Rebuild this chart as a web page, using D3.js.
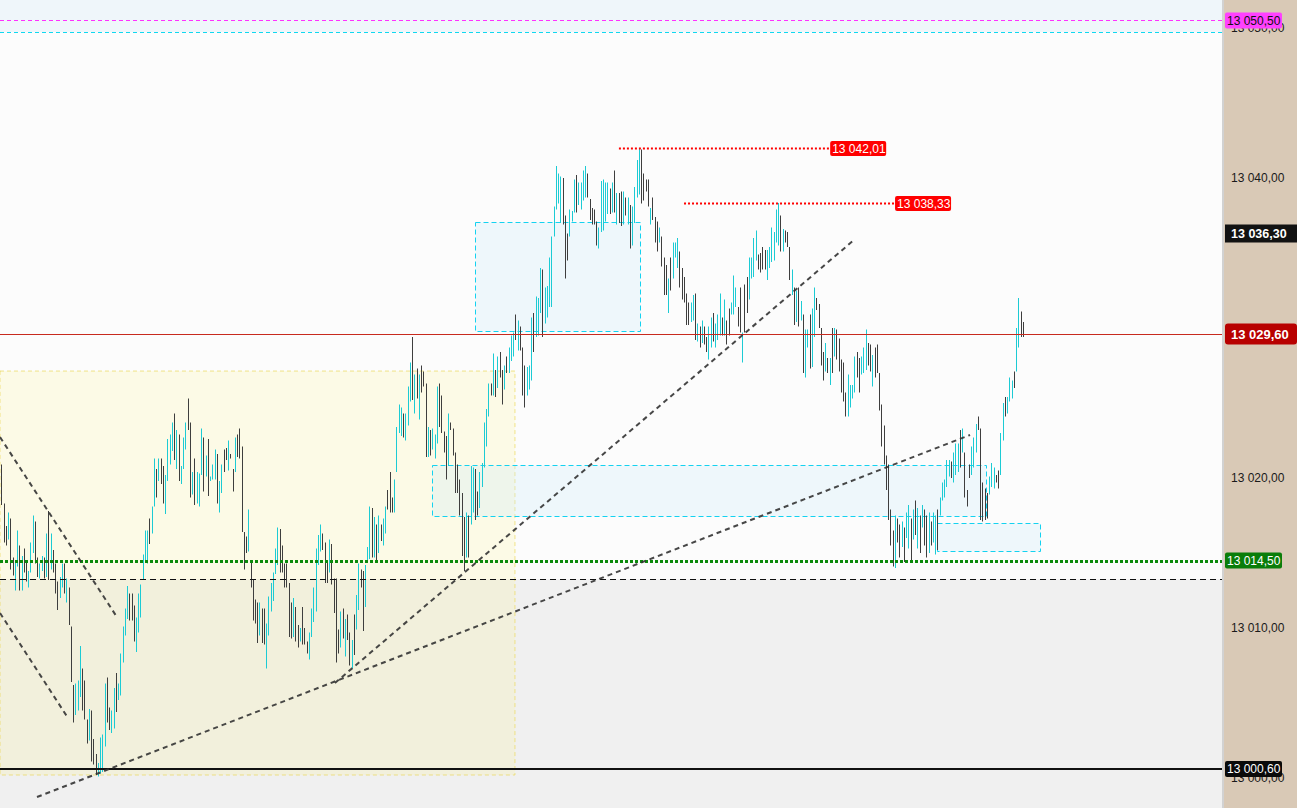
<!DOCTYPE html>
<html><head><meta charset="utf-8">
<script src="https://cdn.jsdelivr.net/npm/d3@7/dist/d3.min.js"></script>
<style>
html,body{margin:0;padding:0;overflow:hidden;background:#fcfcfc}
svg{display:block;font-family:"Liberation Sans",Arial,sans-serif}
</style>
</head><body>
<svg id="chart" width="1297" height="808"></svg>
<script>
// ---------------- DATA ----------------
const BASE = 13000; // values below are points above 13 000
const highs = [
20.9,18.3,16.8,17.7,17.3,14.7,14.5,16.5,15.5,14.8,
15.3,14.5,13.8,15.7,17.5,17.1,14.7,14.3,14.8,14.7,
16.3,17.8,16.3,15.2,14.3,13.1,13.4,14.3,14.3,13.3,
12.7,10.1,6.2,6.3,6.5,8.8,7.3,6.5,3.9,4.6,
4.5,2.6,1.6,1.0,2.7,2.9,6.3,6.7,4.7,4.5,
6.0,7.0,6.3,8.3,10.1,11.3,12.8,12.3,12.3,11.5,
10.7,12.3,12.9,14.9,16.5,16.5,17.3,18.1,21.3,20.6,
21.3,21.3,20.8,20.2,22.6,22.9,23.7,24.3,23.2,22.9,
20.8,22.7,23.7,25.3,23.7,20.4,21.3,20.4,20.3,23.3,
22.7,21.5,22.6,20.1,20.9,21.9,21.6,19.8,20.9,21.9,
22.0,22.5,21.6,20.6,22.7,22.9,23.3,22.1,16.4,16.1,
17.9,14.5,13.2,11.9,11.7,11.7,
11.3,11.3,10.3,12.1,13.0,13.7,15.3,16.7,16.6,15.5,
14.3,14.3,13.0,11.7,12.0,11.4,10.2,10.0,11.4,10.0,
9.1,9.7,11.3,12.7,15.3,16.2,16.9,16.3,15.7,14.5,
15.9,15.6,13.3,13.3,9.9,11.1,11.3,10.6,10.9,9.7,
9.2,10.9,12.2,14.3,13.9,13.8,14.2,15.4,18.1,18.0,
17.4,16.9,17.5,16.9,17.3,18.1,19.2,20.4,18.7,19.9,
23.4,24.9,24.7,24.3,24.3,26.1,27.7,29.4,26.9,27.3,
26.9,27.5,27.1,26.3,23.4,23.2,23.3,22.9,26.1,26.3,
25.5,23.1,22.8,24.3,23.7,23.3,21.7,20.9,19.9,19.0,
17.4,17.7,17.5,20.8,20.7,20.6,19.1,20.4,21.0,23.7,
24.6,26.3,26.3,28.3,27.2,28.1,28.4,27.2,27.5,28.1,
28.7,29.5,29.7,
30.9,30.5,30.1,28.7,27.5,27.4,27.5,30.7,31.0,32.1,
32.0,34.0,33.9,32.7,32.8,34.7,36.1,38.1,40.8,40.3,
40.1,40.0,37.5,36.3,37.9,37.8,39.9,40.2,39.7,39.7,
40.5,40.8,40.3,38.6,38.0,37.9,37.1,36.7,39.8,39.9,
39.7,39.7,39.3,39.7,40.5,39.0,39.0,39.1,39.1,38.7,
38.7,38.2,38.1,39.4,41.2,42.01,41.9,40.3,39.9,39.9,
38.0,38.7,37.4,37.1,36.7,36.1,34.7,34.2,33.3,34.7,
35.7,35.7,36.0,35.1,34.0,33.4,32.3,31.7,31.7,32.2,
32.3,30.3,30.1,30.5,30.1,29.4,30.1,30.7,31.0,30.3,
30.9,32.3,30.7,31.9,30.5,31.3,31.7,33.5,32.7,31.4,
32.7,29.7,32.9,33.4,34.7,34.7,36.0,36.5,34.9,35.0,
35.4,
35.2,35.2,35.4,36.7,36.4,37.9,38.33,37.5,36.6,36.5,
36.4,35.4,33.9,32.7,32.5,32.7,31.8,30.9,29.9,29.9,
30.9,31.3,32.7,32.0,31.6,30.0,28.4,29.0,28.0,28.0,
30.0,30.0,29.9,29.3,27.9,27.7,25.7,26.9,26.2,26.2,
28.1,28.4,28.0,28.1,28.7,29.9,29.0,28.9,28.2,28.7,
28.9,27.0,24.9,23.5,21.5,20.9,17.9,16.5,17.5,17.3,
16.9,17.1,16.7,17.7,18.2,17.3,17.9,18.5,18.0,17.5,
18.2,17.9,17.5,17.7,17.1,17.7,17.5,17.9,18.7,19.7,
19.9,21.2,21.2,21.1,21.7,22.3,22.3,23.2,23.3,21.7,
19.2,20.9,22.1,22.7,23.6,24.1,23.3,19.7,19.3,19.0,
20.1,21.0,20.7,20.2,20.5,23.0,25.0,25.4,25.4,26.7,
26.5,27.1,30.0,32.0,31.1,30.4
];
const lows = [
18.2,15.7,15.5,15.9,13.9,13.5,12.5,14.1,12.5,12.5,
13.7,13.1,12.7,13.7,15.0,14.3,13.4,13.3,13.8,13.3,
13.4,13.2,13.9,13.7,12.3,11.2,12.0,12.7,12.3,11.7,
10.2,6.4,3.7,4.2,4.5,5.4,4.5,3.9,2.3,2.5,
1.1,0.9,0.2,0.1,0.3,0.4,2.1,3.7,3.2,3.0,
3.3,4.4,5.2,5.5,7.7,9.5,10.6,10.5,10.5,9.1,
8.4,9.7,10.7,13.2,14.4,14.3,15.6,16.3,18.1,18.7,
19.8,19.6,18.3,17.6,19.8,20.9,21.8,21.2,20.6,19.8,
19.6,20.6,21.9,23.2,18.7,18.9,18.2,18.3,18.1,20.2,
19.1,20.1,18.8,19.8,19.9,19.9,18.3,17.7,19.0,20.4,
21.2,20.5,21.3,19.1,20.4,21.4,21.3,16.4,13.9,15.0,
15.1,12.7,10.5,10.3,9.0,9.5,
9.0,8.9,7.3,9.5,11.1,11.8,13.6,14.2,13.7,13.7,
12.7,12.7,9.4,9.3,9.4,9.1,8.7,9.1,8.9,8.9,
8.3,7.9,9.4,10.4,11.1,14.2,15.1,15.2,13.0,13.0,
13.7,12.9,11.0,7.7,8.3,8.7,9.3,8.1,9.2,7.5,
7.3,8.2,9.9,11.2,12.7,9.8,11.4,14.4,14.6,14.7,
14.7,14.4,15.0,15.8,15.5,16.3,17.9,17.7,17.7,17.7,
20.4,23.0,22.8,22.7,22.5,23.5,25.1,25.2,24.3,25.3,
23.9,25.7,26.1,21.4,21.4,21.5,21.9,21.3,22.3,23.4,
23.0,21.7,19.9,20.8,23.2,21.5,19.0,19.0,17.5,14.8,
13.8,14.7,14.7,16.9,17.7,17.2,17.5,18.0,19.4,20.7,
22.1,24.1,25.5,25.5,25.4,26.0,26.7,24.9,25.9,27.0,
27.0,27.8,28.1,
29.2,28.5,28.5,25.5,24.7,25.5,25.9,26.5,28.4,29.4,
29.5,31.0,29.4,30.3,30.7,31.4,31.4,36.1,37.9,38.3,
37.0,36.9,33.3,34.5,36.1,37.1,37.7,37.7,38.2,37.9,
38.5,38.7,38.7,37.2,36.9,36.9,35.5,35.3,36.4,36.5,
37.1,37.6,37.6,37.7,37.7,36.9,37.0,36.8,36.9,37.5,
36.9,35.3,35.5,37.0,38.7,38.9,38.3,38.5,39.1,38.1,
36.9,37.2,35.7,35.1,35.7,34.1,32.2,32.2,31.0,32.5,
33.3,34.7,34.0,32.7,31.9,31.7,30.2,30.2,30.4,30.5,
29.2,29.1,28.7,29.0,28.9,28.4,27.9,28.7,29.1,28.7,
29.2,29.5,29.5,29.5,28.9,29.5,30.9,30.9,31.4,30.1,
29.7,27.7,29.7,31.0,31.9,33.3,33.4,34.5,33.9,33.7,
33.9,
33.9,33.2,34.0,34.4,34.5,35.7,35.5,35.1,35.1,35.7,
35.4,33.2,32.2,30.2,30.4,30.1,30.5,27.0,26.7,28.7,
27.3,27.4,29.4,31.2,30.0,27.5,26.5,27.1,27.0,26.2,
27.0,28.1,27.9,27.1,25.7,25.1,24.1,24.1,24.7,25.3,
25.7,26.7,25.7,26.9,27.0,27.2,27.5,27.1,26.1,26.7,
27.0,24.5,22.1,20.9,19.2,17.2,15.5,14.1,14.0,15.7,
14.7,15.4,14.4,16.0,15.3,14.5,15.9,16.2,15.3,15.0,
16.7,15.5,14.7,15.0,15.5,15.7,14.9,15.2,17.5,18.5,
18.7,19.4,20.1,20.0,19.7,20.2,20.4,20.7,21.7,18.7,
18.1,20.0,20.2,20.7,21.7,23.2,17.2,17.1,17.2,17.3,
18.9,19.4,19.3,19.7,19.3,20.2,22.5,24.1,24.3,25.1,
25.3,26.0,27.1,28.7,29.4,29.4
];
// u = up bar (cyan), d = down bar (dark)
const directions =
 "dddudduudu"+"dduuudduud"+"ududdduudu"+"ddduuudddu"+"ddduuuuddu"+"uduuuuuddd"+
 "uuuuuuduud"+"udduuuudud"+"uuudduduuu"+"duduuuduud"+"dudduddddd"+"uddddu"+
 "dduuuuuudd"+"dddduddudd"+"duuuuuuddd"+"uddddududd"+"uduudduuud"+"ududuudddu"+
 "uuuduuudud"+"uddduduuud"+"dddudddddd"+"duduudduuu"+"uudududdud"+"uuu"+
 "duddduuudu"+"uuduuuuuuu"+"uddduuuduu"+"uuddddduuu"+"uudududdud"+"uduuuudddd"+
 "udddudddud"+"uuuddddduu"+"dududduudu"+"uududduuud"+"dudduuuudd"+"d"+
 "duuuuuudud"+"ddudududuu"+"duuddddudu"+"duddddduuu"+"udduuuddud"+"ddddddddud"+
 "duduududud"+"udduduuduu"+"uuuduuudud"+"dduuuddddd"+"uuudduuduu"+"uduudd";

// visible axis ticks (13 030,00 is hidden under the last-price tag in the reference)
const axisTicks = [13000, 13010, 13020, 13040, 13050];

// horizontal levels (price)
const levelMagenta = 13050.50;
const levelCyan = 13049.73;
const levelLast = 13029.60;
const levelGreen = 13014.50;
const levelDashed = 13013.27;
const levelLow = 13000.60;
const levelBlackTag = 13036.30;

// red dotted high markers: [price, fromBar, toBar]
const highMarks = [[13042.01, 276.1, 370.2], [13038.33, 305.1, 399.1]];

// rectangles: [fromBar, toBar, topPrice, bottomPrice]
const yellowBox = [0.42, 229.8, 13027.13, 13000.2];
const blueBoxes = [
  [212.0, 285.5, 13037.07, 13029.80],
  [192.8, 439.6, 13020.87, 13017.47],
  [417.8, 463.7, 13017.00, 13015.13]
];
// dashed trend lines: [[bar, price],[bar, price]]
const trendLines = [
  [[0.42, 13022.73], [52.5, 13010.73]],
  [[0.42, 13011.00], [30.7, 13004.00]],
  [[16.9, 12998.73], [432.5, 13022.87]],
  [[149.6, 13006.33], [381.3, 13035.93]]
];

// ---------------- DRAW ----------------
const W = 1297, H = 808, PR = 1222;
const svg = d3.select("#chart");
const N = Math.min(highs.length, lows.length, directions.length);
const bars = d3.range(N).map(i => ({i: i + 1, hi: BASE + highs[i], lo: BASE + lows[i], up: directions[i] === "u"}));

const y = d3.scaleLinear().domain([13000, 13050]).range([778, 28]);
const x = d3.scaleLinear().domain([1, 456]).range([1.3, 1022.8]);

const loc = d3.formatLocale({decimal: ",", thousands: " ", grouping: [3], currency: ["", ""]});
const fmt = loc.format(",.2f");

const g = svg.append("g");
// plot background
g.append("rect").attr("x", 0).attr("y", 0).attr("width", PR).attr("height", H).attr("fill", "#fcfcfc");
// top zone
g.append("rect").attr("x", 0).attr("y", 0).attr("width", PR).attr("height", y(levelCyan)).attr("fill", "#eff6fa");
// gray lower zone
g.append("rect").attr("x", 0).attr("y", y(levelDashed)).attr("width", PR).attr("height", H - y(levelDashed)).attr("fill", "#f0f0f0");

// yellow box
g.append("rect")
  .attr("x", x(yellowBox[0])).attr("y", y(yellowBox[2]))
  .attr("width", x(yellowBox[1]) - x(yellowBox[0])).attr("height", y(yellowBox[3]) - y(yellowBox[2]))
  .attr("fill", "rgb(255,244,110)").attr("fill-opacity", 0.15)
  .attr("stroke", "rgba(235,215,90,0.7)").attr("stroke-dasharray", "4,3").attr("stroke-width", 1);

// blue boxes
g.selectAll("rect.bb").data(blueBoxes).join("rect").attr("class", "bb")
  .attr("x", d => Math.round(x(d[0])) + 0.5).attr("y", d => Math.round(y(d[2])) + 0.5)
  .attr("width", d => Math.round(x(d[1]) - x(d[0]))).attr("height", d => Math.round(y(d[3]) - y(d[2])))
  .attr("fill", "rgb(205,235,250)").attr("fill-opacity", 0.3)
  .attr("stroke", "#14d2f0").attr("stroke-dasharray", "5,3").attr("stroke-width", 1);

// bars
g.append("g").selectAll("line").data(bars).join("line")
  .attr("x1", d => Math.round(x(d.i)) + 0.5).attr("x2", d => Math.round(x(d.i)) + 0.5)
  .attr("y1", d => y(d.hi)).attr("y2", d => Math.max(y(d.lo), y(d.hi) + 1))
  .attr("stroke", d => d.up ? "#1ccbd4" : "#3e3e3e").attr("stroke-width", 1);

// horizontal levels
function hline(price, color, width, dash) {
  const yy = Math.round(y(price)) + (width % 2 ? 0.5 : 0);
  g.append("line").attr("x1", 0).attr("x2", PR).attr("y1", yy).attr("y2", yy)
    .attr("stroke", color).attr("stroke-width", width).attr("stroke-dasharray", dash || null);
}
hline(levelMagenta, "#ff30ff", 1, "4,3");
hline(levelCyan, "#10d8f0", 1, "4,3");
hline(levelDashed, "#111", 1, "6,4");
hline(levelGreen, "#0b8a0b", 3, "3,2");
hline(levelLow, "#111", 2);
hline(levelLast, "#c82a1e", 1);

// trend lines
g.append("g").selectAll("line").data(trendLines).join("line")
  .attr("x1", d => x(d[0][0])).attr("y1", d => y(d[0][1]))
  .attr("x2", d => x(d[1][0])).attr("y2", d => y(d[1][1]))
  .attr("stroke", "#333").attr("stroke-opacity", 0.9).attr("stroke-width", 2).attr("stroke-dasharray", "5,4");

// red dotted high markers + tags
highMarks.forEach(([p, a, b]) => {
  const yy = Math.round(y(p)) + 0.5;
  g.append("line").attr("x1", x(a)).attr("x2", x(b)).attr("y1", yy).attr("y2", yy)
    .attr("stroke", "#ff0000").attr("stroke-width", 2).attr("stroke-dasharray", "2,2");
  g.append("rect").attr("x", x(b)).attr("y", yy - 7.5).attr("width", 56).attr("height", 15).attr("rx", 2).attr("fill", "#ff0000");
  g.append("text").attr("x", x(b) + 2).attr("y", yy).attr("dy", "0.36em").attr("fill", "#fff")
    .attr("font-size", 12).text(fmt(p));
});

// right axis panel
svg.append("rect").attr("x", PR).attr("y", 0).attr("width", 2).attr("height", H).attr("fill", "#d2d2d2");
svg.append("rect").attr("x", PR + 2).attr("y", 0).attr("width", W - PR - 2).attr("height", H).attr("fill", "#d9c9b6");

const axis = d3.axisRight(y).tickValues(axisTicks).tickSize(0).tickPadding(7).tickFormat(fmt);
const ag = svg.append("g").attr("transform", `translate(${PR + 2},0)`).call(axis);
ag.select(".domain").remove();
ag.selectAll("text").attr("font-size", 12).attr("fill", "#1a1a1a").attr("font-family", "'Liberation Sans',Arial,sans-serif");

function tag(price, bg, fg, w, h, bold, fs, rx) {
  const yy = y(price);
  svg.append("rect").attr("x", PR + 3).attr("y", yy - h / 2).attr("width", w).attr("height", h).attr("rx", rx).attr("fill", bg);
  svg.append("text").attr("x", PR + (bold ? 9 : 5)).attr("y", yy).attr("dy", "0.36em").attr("fill", fg)
    .attr("font-size", fs).attr("font-weight", bold ? "bold" : "normal").text(fmt(price));
}
tag(levelMagenta, "#ff40ff", "#111", 57, 16, false, 12, 2);
tag(levelBlackTag, "#121212", "#fff", W - PR - 3, 18, true, 12.5, 0);
tag(levelLast, "#b80000", "#fff", W - PR - 3, 21, true, 13, 3);
tag(levelGreen, "#0a7d0a", "#fff", 57, 16, false, 12, 2);
tag(levelLow, "#0a0a0a", "#fff", 57, 16, false, 12, 2);
</script>
</body></html>
